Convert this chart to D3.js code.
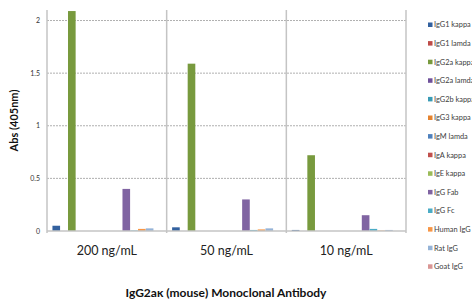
<!DOCTYPE html>
<html>
<head>
<meta charset="utf-8">
<script src="https://cdn.jsdelivr.net/npm/d3@7"></script>
<style>
  body { margin: 0; background: #fff; }
  svg { display: block; font-family: Lato, "Open Sans", sans-serif; }
</style>
</head>
<body>
<script>
const width = 472;
const height = 299;

const categories = ["200 ng/mL", "50 ng/mL", "10 ng/mL"];
const seriesNames = ["IgG1 kappa", "IgG1 lamda", "IgG2a kappa", "IgG2a lamda", "IgG2b kappa",
  "IgG3 kappa", "IgM lamda", "IgA kappa", "IgE kappa", "IgG Fab", "IgG Fc",
  "Human IgG", "Rat IgG", "Goat IgG"];
// one array per series, values for 200 / 50 / 10 ng/mL
const igg1Kappa = [0.05, 0.035, 0.01];
const igg1Lamda = [0, 0, 0];
const igg2aKappa = [2.09, 1.59, 0.72];
const igg2aLamda = [0, 0, 0];
const igg2bKappa = [0, 0, 0];
const igg3Kappa = [0, 0, 0];
const igmLamda = [0, 0, 0];
const igaKappa = [0, 0, 0];
const igeKappa = [0, 0, 0];
const iggFab = [0.40, 0.30, 0.15];
const iggFc = [0.005, 0.01, 0.02];
const humanIgg = [0.02, 0.015, 0.004];
const ratIgg = [0.025, 0.025, 0.01];
const goatIgg = [0, 0, 0];
const yTicks = [0, 0.5, 1, 1.5, 2];

const seriesValues = [igg1Kappa, igg1Lamda, igg2aKappa, igg2aLamda, igg2bKappa, igg3Kappa,
  igmLamda, igaKappa, igeKappa, iggFab, iggFc, humanIgg, ratIgg, goatIgg];

const colors = ["#33619f", "#be4b48", "#789a3e", "#6f519b", "#3a9bb5", "#e5832f", "#4f81bd",
  "#c0504d", "#9bbb59", "#8064a2", "#4bacc6", "#f79646", "#95b3d7", "#d99694"];

const margin = { top: 10, left: 47, right: 66, bottom: 68 };
const plotW = width - margin.left - margin.right;
const plotH = height - margin.top - margin.bottom;

const svg = d3.select("body").append("svg")
  .attr("width", width)
  .attr("height", height);

const x0 = d3.scaleBand().domain(categories).range([0, plotW]);
const x1 = d3.scaleBand().domain(seriesNames).range([0, x0.bandwidth()])
  .paddingInner(0.02).paddingOuter(0.7);
const y = d3.scaleLinear().domain([0, 2.1]).range([plotH, 0]);
const color = d3.scaleOrdinal().domain(seriesNames).range(colors);

const g = svg.append("g")
  .attr("transform", "translate(" + margin.left + "," + margin.top + ")");

// dashed gridlines
g.selectAll(".grid")
  .data(yTicks.filter(d => d > 0))
  .enter().append("line")
  .attr("x1", 0).attr("x2", plotW)
  .attr("y1", d => y(d)).attr("y2", d => y(d))
  .attr("stroke", "#9a9a9a")
  .attr("stroke-width", 0.8)
  .attr("stroke-dasharray", "2,1");

// y tick labels
g.selectAll(".ytick")
  .data(yTicks)
  .enter().append("text")
  .attr("x", -7)
  .attr("y", d => y(d) + 2.5)
  .attr("text-anchor", "end")
  .attr("font-size", 7)
  .attr("fill", "#333")
  .text(d => d);

// bars
const groups = g.selectAll(".cat")
  .data(categories)
  .enter().append("g")
  .attr("transform", d => "translate(" + x0(d) + ",0)");

groups.selectAll("rect")
  .data((c, ci) => seriesNames.map((s, si) => ({ s: s, v: seriesValues[si][ci] })))
  .enter().append("rect")
  .attr("x", d => x1(d.s))
  .attr("width", x1.bandwidth())
  .attr("y", d => y(d.v))
  .attr("height", d => plotH - y(d.v))
  .attr("fill", d => color(d.s));

// frame: left axis, category dividers, right edge, baseline
const dividers = categories.map(c => x0(c)).concat([plotW]);
g.selectAll(".div")
  .data(dividers)
  .enter().append("line")
  .attr("x1", d => d).attr("x2", d => d)
  .attr("y1", 0).attr("y2", plotH + 2)
  .attr("stroke", "#c4c4c4")
  .attr("stroke-width", 1.5);

g.append("line")
  .attr("x1", 0).attr("x2", plotW)
  .attr("y1", plotH).attr("y2", plotH)
  .attr("stroke", "#c4c4c4")
  .attr("stroke-width", 1.5);

// category labels
g.selectAll(".xlab")
  .data(categories)
  .enter().append("text")
  .attr("x", d => x0(d) + x0.bandwidth() / 2)
  .attr("y", plotH + 24)
  .attr("text-anchor", "middle")
  .attr("font-size", 12.5)
  .attr("fill", "#222")
  .text(d => d);

// axis titles
svg.append("text")
  .attr("transform", "translate(18," + (margin.top + plotH / 2) + ") rotate(-90)")
  .attr("text-anchor", "middle")
  .attr("font-size", 11)
  .attr("font-weight", "bold")
  .attr("fill", "#111")
  .text("Abs (405nm)");

svg.append("text")
  .attr("x", 226)
  .attr("y", 297)
  .attr("text-anchor", "middle")
  .attr("font-size", 12)
  .attr("font-weight", "bold")
  .attr("fill", "#111")
  .text("IgG2aκ (mouse) Monoclonal Antibody");

// legend
const legend = svg.selectAll(".leg")
  .data(seriesNames)
  .enter().append("g")
  .attr("transform", (d, i) => "translate(428," + (25 + i * 18.6) + ")");

legend.append("rect")
  .attr("x", 0).attr("y", -2.5)
  .attr("width", 4.5).attr("height", 4.5)
  .attr("fill", d => color(d));

legend.append("text")
  .attr("x", 6)
  .attr("y", 2.4)
  .attr("font-size", 7.4)
  .attr("fill", "#404040")
  .text(d => d);
</script>
</body>
</html>
